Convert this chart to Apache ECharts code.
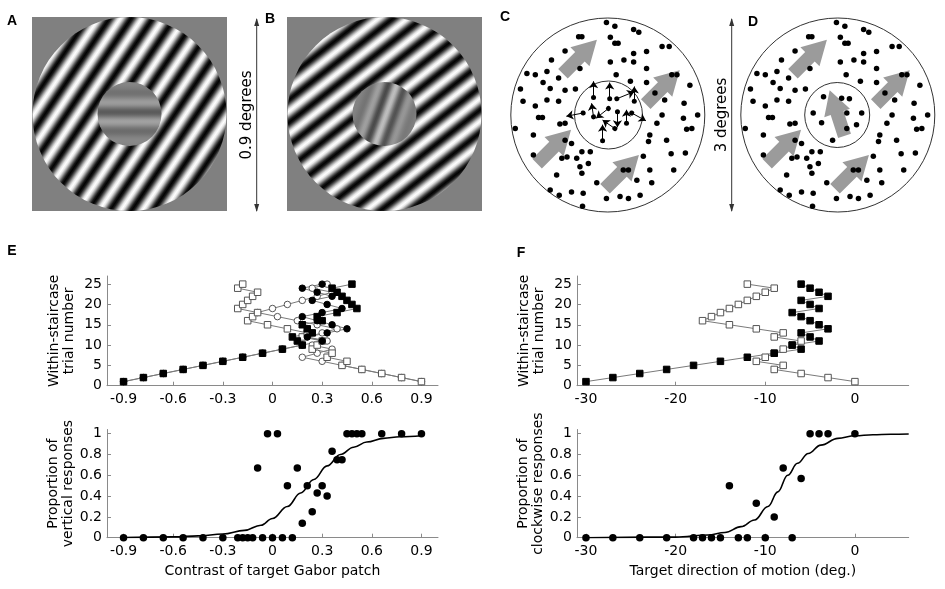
<!DOCTYPE html>
<html>
<head>
<meta charset="utf-8">
<script src="https://cdn.jsdelivr.net/npm/echarts@6/dist/echarts.min.js"></script>
<style>
  html, body { margin: 0; padding: 0; background: #fff; }
  #chart { width: 945px; height: 589px; }
</style>
</head>
<body>
<div id="chart"></div>
<script>
// staircase trial numbers
const trials = [1, 2, 3, 4, 5, 6, 7, 8, 9, 10, 11, 12, 13, 14, 15, 16, 17, 18, 19, 20, 21, 22, 23, 24, 25];

// E: Gabor contrast staircases
const eFilledSquares = [-0.9, -0.78, -0.66, -0.54, -0.42, -0.3, -0.18, -0.06, 0.06, 0.18, 0.15, 0.12, 0.24, 0.21, 0.18, 0.3, 0.27, 0.39, 0.51, 0.48, 0.45, 0.42, 0.39, 0.36, 0.48];
const eOpenSquares = [0.9, 0.78, 0.66, 0.54, 0.42, 0.45, 0.33, 0.36, 0.24, 0.27, 0.3, 0.18, 0.21, 0.09, -0.03, -0.15, -0.12, -0.09, -0.21, -0.18, -0.15, -0.12, -0.09, -0.21, -0.18];
const eFilledCircles = [-0.9, -0.78, -0.66, -0.54, -0.42, -0.3, -0.18, -0.06, 0.06, 0.18, 0.3, 0.21, 0.33, 0.45, 0.36, 0.27, 0.18, 0.3, 0.42, 0.33, 0.24, 0.36, 0.27, 0.18, 0.3];
const eOpenCircles = [0.9, 0.78, 0.66, 0.54, 0.42, 0.3, 0.18, 0.27, 0.36, 0.24, 0.33, 0.21, 0.3, 0.39, 0.27, 0.15, 0.03, -0.09, 0, 0.09, 0.18, 0.27, 0.36, 0.24, 0.33];

// E: psychometric data and fit
const eLevels = [-0.9, -0.78, -0.66, -0.54, -0.42, -0.3, -0.21, -0.18, -0.15, -0.12, -0.09, -0.06, -0.03, 0, 0.03, 0.06, 0.09, 0.12, 0.15, 0.18, 0.21, 0.24, 0.27, 0.3, 0.33, 0.36, 0.39, 0.42, 0.45, 0.48, 0.51, 0.54, 0.66, 0.78, 0.9];
const eProportions = [0, 0, 0, 0, 0, 0, 0, 0, 0, 0, 0.67, 0, 1, 0, 1, 0, 0.5, 0, 0.67, 0.14, 0.5, 0.25, 0.43, 0.5, 0.4, 0.83, 0.75, 0.75, 1, 1, 1, 1, 1, 1, 1];
const eFitX = [-0.9, -0.6, -0.45, -0.3, -0.17, -0.07, 0, 0.09, 0.17, 0.25, 0.33, 0.41, 0.49, 0.57, 0.67, 0.77, 0.9];
const eFitY = [0.002, 0.008, 0.018, 0.035, 0.07, 0.12, 0.185, 0.3, 0.43, 0.56, 0.69, 0.8, 0.87, 0.92, 0.955, 0.97, 0.98];

// F: motion direction staircases
const fFilledSquares = [-30, -27, -24, -21, -18, -15, -12, -9, -6, -7, -4, -5, -6, -3, -4, -5, -6, -7, -4, -5, -6, -3, -4, -5, -6];
const fOpenSquares = [0, -3, -6, -9, -8, -11, -10, -9, -8, -7, -6, -9, -8, -11, -14, -17, -16, -15, -14, -13, -12, -11, -10, -9, -12];

// F: psychometric data and fit
const fLevels = [-30, -27, -24, -21, -18, -17, -16, -15, -14, -13, -12, -11, -10, -9, -8, -7, -6, -5, -4, -3, 0];
const fProportions = [0, 0, 0, 0, 0, 0, 0, 0, 0.5, 0, 0, 0.33, 0, 0.2, 0.67, 0, 0.57, 1, 1, 1, 1];
const fFitX = [-30, -20, -16.4, -14.5, -12.7, -11.2, -9.7, -8.6, -7.5, -6.4, -5.2, -3.8, -1.9, 0, 2, 4, 6];
const fFitY = [0, 0.006, 0.026, 0.05, 0.106, 0.17, 0.3, 0.44, 0.6, 0.715, 0.81, 0.89, 0.955, 0.98, 0.99, 0.995, 0.997];

// tick labels
const eTicks = [-0.9, -0.6, -0.3, 0, 0.3, 0.6, 0.9];
const fTicks = [-30, -20, -10, 0];
const trialTicks = [0, 5, 10, 15, 20, 25];
const propTicks = [0, 0.2, 0.4, 0.6, 0.8, 1];

// C / D: dot stimuli, in degrees from the aperture centre
const outerDots = [[-0.02, 1.43], [0.11, 1.37], [0.4, 1.32], [0.48, 1.28], [-0.45, 1.21], [-0.4, 1.21], [0.04, 1.2], [0.11, 1.11], [0.16, 1.11], [0.84, 1.06], [0.95, 1.06], [-0.66, 0.99], [0.4, 0.95], [0.6, 0.98], [-0.87, 0.85], [0.04, 0.82], [0.4, 0.82], [-0.43, 0.72], [-1.25, 0.64], [-1.12, 0.62], [-0.94, 0.67], [-0.76, 0.57], [0.13, 0.62], [0.6, 0.72], [0.99, 0.62], [1.07, 0.62], [-1.35, 0.4], [-0.89, 0.41], [-0.66, 0.38], [0.35, 0.52], [0.73, 0.34], [1.27, 0.46], [-1.31, 0.21], [-1.12, 0.14], [-0.94, 0.23], [-0.76, 0.21], [0.88, 0.23], [1.18, 0.18], [-1.07, -0.04], [-1.01, -0.04], [-0.74, -0.14], [-0.66, -0.13], [-1.43, -0.21], [-1.15, -0.31], [0.76, -0.13], [0.84, 0], [1.17, -0.05], [1.39, 0], [1.22, -0.22], [1.3, -0.21], [0.65, -0.31], [0.63, -0.41], [0.91, -0.39], [-0.66, -0.39], [-0.56, -0.44], [-0.4, -0.57], [-0.27, -0.57], [-0.48, -0.67], [-1.15, -0.62], [-0.71, -0.67], [-0.63, -0.65], [0.55, -0.64], [1.2, -0.59], [-0.79, -0.93], [-0.43, -0.8], [-0.4, -0.9], [-0.17, -1.05], [0.24, -0.85], [0.32, -0.85], [0.45, -1.01], [0.65, -0.85], [0.68, -1.05], [1.02, -0.85], [-0.89, -1.16], [-0.75, -1.24], [-0.56, -1.19], [-0.38, -1.21], [-0.02, -1.29], [0.19, -1.26], [0.32, -1.29], [0.5, -1.24], [-0.39, -1.41], [-0.5, 0.4], [0.6, 0.5], [-0.3, -0.75], [0.98, -0.6], [-1.0, 0.5], [0.25, 0.85]];
const cInnerArrows = [[-0.22, 0.27, -0.22, 0.52], [0.03, 0.25, 0.03, 0.5], [0.14, 0.25, 0.41, 0.36], [0.41, 0.21, 0.41, 0.44], [-0.38, 0.03, -0.64, -0.02], [-0.22, -0.03, -0.25, 0.18], [0.01, 0.1, -0.18, -0.05], [-0.08, -0.4, -0.08, -0.15], [0.11, -0.21, -0.08, -0.08], [0.15, 0.05, 0.15, -0.19], [0.29, -0.13, 0.29, 0.08], [0.37, 0.03, 0.59, -0.09]];
const dInnerDots = [[-0.22, 0.28], [0.06, 0.26], [0.18, 0.25], [-0.38, 0.03], [0.37, 0.03], [0.14, 0.03], [-0.25, -0.12], [0.29, -0.15], [-0.08, -0.39], [0.14, -0.21]];
// big grey arrows: x, y, direction (deg, anticlockwise from +x)
const surroundArrows = [[-0.43, 0.9, 45], [0.85, 0.43, 45], [-0.83, -0.49, 45], [0.22, -0.88, 45]];
const dCentreArrow = [[-0.01, 0.03, 108]];

const chart = echarts.init(document.getElementById('chart'));

const FONT = 'DejaVu Sans';
const AXIS_GREY = '#8a8a8a';

function xAxisOf(grid, min, max, ticks, name) {
  return {
    type: 'value', gridIndex: grid, min: min, max: max,
    name: name || '', nameLocation: 'middle', nameGap: 27,
    nameTextStyle: { fontFamily: FONT, fontSize: 14, color: '#000' },
    axisLine: { onZero: false, lineStyle: { color: AXIS_GREY } },
    axisTick: { inside: true, length: 4, customValues: ticks, lineStyle: { color: AXIS_GREY } },
    axisLabel: { customValues: ticks, fontFamily: FONT, fontSize: 14, color: '#000', margin: 7 },
    splitLine: { show: false }
  };
}

function yAxisOf(grid, max, ticks, name) {
  return {
    type: 'value', gridIndex: grid, min: 0, max: max,
    name: name, nameLocation: 'middle', nameGap: 30, nameRotate: 90,
    nameTextStyle: { fontFamily: FONT, fontSize: 14, color: '#000', lineHeight: 15 },
    axisLine: { show: true, onZero: false, lineStyle: { color: AXIS_GREY } },
    axisTick: { show: true, inside: true, length: 4, customValues: ticks, lineStyle: { color: AXIS_GREY } },
    axisLabel: { customValues: ticks, fontFamily: FONT, fontSize: 14, color: '#000', margin: 5 },
    splitLine: { show: false }
  };
}

function hiddenAxis(grid) {
  return { type: 'value', gridIndex: grid, min: -1.55, max: 1.55, show: false };
}

function staircase(name, grid, xs, symbol, filled) {
  return {
    name: name, type: 'line', xAxisIndex: grid, yAxisIndex: grid,
    data: xs.map((x, i) => [x, trials[i]]),
    symbol: symbol, symbolSize: 6.5, showAllSymbol: true,
    lineStyle: { color: '#7a7a7a', width: 1 },
    itemStyle: { color: filled ? '#000' : '#fff', borderColor: filled ? '#000' : '#555', borderWidth: 1, opacity: 1 },
    animation: false
  };
}

function dots(grid, xs, ys) {
  return {
    type: 'scatter', xAxisIndex: grid, yAxisIndex: grid,
    data: xs.map((x, i) => [x, ys[i]]),
    symbolSize: 7.5, itemStyle: { color: '#000', opacity: 1 }, z: 3, animation: false
  };
}

function fit(grid, xs, ys) {
  return {
    type: 'line', xAxisIndex: grid, yAxisIndex: grid,
    data: xs.map((x, i) => [x, ys[i]]),
    showSymbol: false, smooth: 0.4, smoothMonotone: 'x',
    lineStyle: { color: '#000', width: 1.6 }, animation: false
  };
}

const ARROW_PATH = 'path://M13,0 L26,23 L19.5,23 L19.5,46 L6.5,46 L6.5,23 L0,23 Z';

function bigArrows(grid, list) {
  return {
    type: 'scatter', xAxisIndex: grid, yAxisIndex: grid,
    data: list, symbol: ARROW_PATH, symbolSize: [27, 48],
    symbolRotate: (v) => v[2] - 90,
    itemStyle: { color: '#9b9b9b', opacity: 1 }, z: 1, animation: false
  };
}

// grating colour stops: a cosine luminance profile
function gratingStops(cycles, contrast, envelope) {
  const stops = [];
  const n = Math.round(cycles * 10);
  for (let i = 0; i <= n; i++) {
    const t = i / n;
    let c = contrast;
    if (envelope) c *= Math.exp(-Math.pow((t - 0.5) / envelope, 2));
    const v = Math.round(128 + 127 * c * Math.cos(2 * Math.PI * cycles * t));
    stops.push({ offset: t, color: 'rgb(' + v + ',' + v + ',' + v + ')' });
  }
  return stops;
}

function gradientAlong(angleDeg, stops) {
  // stripes run at angleDeg above horizontal; gradient runs across them
  const a = angleDeg * Math.PI / 180;
  const dx = Math.sin(a) / 2, dy = Math.cos(a) / 2;
  return new echarts.graphic.LinearGradient(0.5 - dx, 0.5 - dy, 0.5 + dx, 0.5 + dy, stops);
}

function patch(cx, cy, gratingAngle, innerAngle, innerCycles, innerContrast, innerEnv) {
  return [
    { type: 'rect', shape: { x: cx - 97.5, y: cy - 97, width: 195, height: 194 }, style: { fill: '#808080' } },
    { type: 'circle', shape: { cx: cx, cy: cy, r: 97 }, style: { fill: gradientAlong(gratingAngle, gratingStops(10.8, 1)) } },
    { type: 'circle', shape: { cx: cx, cy: cy, r: 32 }, style: { fill: gradientAlong(innerAngle, gratingStops(innerCycles, innerContrast, innerEnv)) } }
  ];
}

function scaleBar(x, label, textX) {
  return [
    { type: 'line', shape: { x1: x, y1: 19, x2: x, y2: 211 }, style: { stroke: '#333', lineWidth: 1 } },
    { type: 'polygon', shape: { points: [[x - 2.5, 26], [x, 18], [x + 2.5, 26]] }, style: { fill: '#333' } },
    { type: 'polygon', shape: { points: [[x - 2.5, 204], [x, 212], [x + 2.5, 204]] }, style: { fill: '#333' } },
    { type: 'text', x: textX, y: 115, rotation: Math.PI / 2,
      style: { text: label, font: '15px "DejaVu Sans"', fill: '#000', align: 'center', verticalAlign: 'middle' } }
  ];
}

function letter(t, x, y) {
  return { type: 'text', x: x, y: y,
    style: { text: t, font: 'bold 14px "Liberation Sans"', fill: '#000', align: 'center', verticalAlign: 'middle' } };
}

const graphics = [].concat(
  patch(129.5, 114, 56, 0, 3.2, 0.3, 0.35),
  patch(384.5, 114, 38, 70, 3.8, 0.5, 0.28),
  scaleBar(256.7, '0.9 degrees', 247),
  scaleBar(731.7, '3 degrees', 722),
  [
    { type: 'circle', shape: { cx: 607.8, cy: 115, r: 97 }, style: { fill: 'none', stroke: '#333', lineWidth: 1 } },
    { type: 'circle', shape: { cx: 608.5, cy: 115, r: 34 }, style: { fill: 'none', stroke: '#333', lineWidth: 1 } },
    { type: 'circle', shape: { cx: 837.8, cy: 115, r: 97 }, style: { fill: 'none', stroke: '#333', lineWidth: 1 } },
    { type: 'circle', shape: { cx: 837.2, cy: 115, r: 32.5 }, style: { fill: 'none', stroke: '#333', lineWidth: 1 } },
    letter('A', 12, 21), letter('B', 270, 19), letter('C', 505, 17), letter('D', 753, 22),
    letter('E', 12, 251), letter('F', 521, 253)
  ]
);

const option = {
  backgroundColor: '#fff',
  animation: false,
  graphic: { elements: graphics },
  grid: [
    { left: 107, top: 276, width: 331, height: 109.7 },
    { left: 107, top: 429.5, width: 331, height: 108.2 },
    { left: 577, top: 276, width: 331.7, height: 109.7 },
    { left: 577, top: 429.5, width: 331.7, height: 108.2 },
    { left: 507.5, top: 14.7, width: 200.5, height: 200.5 },
    { left: 737.5, top: 14.7, width: 200.5, height: 200.5 }
  ],
  xAxis: [
    xAxisOf(0, -1, 1, eTicks),
    xAxisOf(1, -1, 1, eTicks, 'Contrast of target Gabor patch'),
    xAxisOf(2, -31, 6, fTicks),
    xAxisOf(3, -31, 6, fTicks, 'Target direction of motion (deg.)'),
    hiddenAxis(4), hiddenAxis(5)
  ],
  yAxis: [
    yAxisOf(0, 27, trialTicks, 'Within-staircase\ntrial number'),
    yAxisOf(1, 1.04, propTicks, 'Proportion of\nvertical responses'),
    yAxisOf(2, 27, trialTicks, 'Within-staircase\ntrial number'),
    yAxisOf(3, 1.04, propTicks, 'Proportion of\nclockwise responses'),
    hiddenAxis(4), hiddenAxis(5)
  ],
  series: [
    staircase('open circles', 0, eOpenCircles, 'circle', false),
    staircase('open squares', 0, eOpenSquares, 'rect', false),
    staircase('filled circles', 0, eFilledCircles, 'circle', true),
    staircase('filled squares', 0, eFilledSquares, 'rect', true),
    fit(1, eFitX, eFitY),
    dots(1, eLevels, eProportions),
    staircase('open squares', 2, fOpenSquares, 'rect', false),
    staircase('filled squares', 2, fFilledSquares, 'rect', true),
    fit(3, fFitX, fFitY),
    dots(3, fLevels, fProportions),
    bigArrows(4, surroundArrows),
    {
      type: 'scatter', xAxisIndex: 4, yAxisIndex: 4, data: outerDots,
      symbolSize: 5.5, itemStyle: { color: '#000', opacity: 1 }, z: 3, animation: false
    },
    {
      type: 'lines', coordinateSystem: 'cartesian2d', xAxisIndex: 4, yAxisIndex: 4,
      data: cInnerArrows.map(a => ({ coords: [[a[0], a[1]], [a[2], a[3]]] })),
      symbol: ['circle', 'arrow'], symbolSize: [5, 7],
      lineStyle: { color: '#000', width: 1, opacity: 1 }, z: 3, animation: false
    },
    bigArrows(5, surroundArrows.concat(dCentreArrow)),
    {
      type: 'scatter', xAxisIndex: 5, yAxisIndex: 5, data: outerDots.concat(dInnerDots),
      symbolSize: 5.5, itemStyle: { color: '#000', opacity: 1 }, z: 3, animation: false
    }
  ]
};

chart.setOption(option);
</script>
</body>
</html>
